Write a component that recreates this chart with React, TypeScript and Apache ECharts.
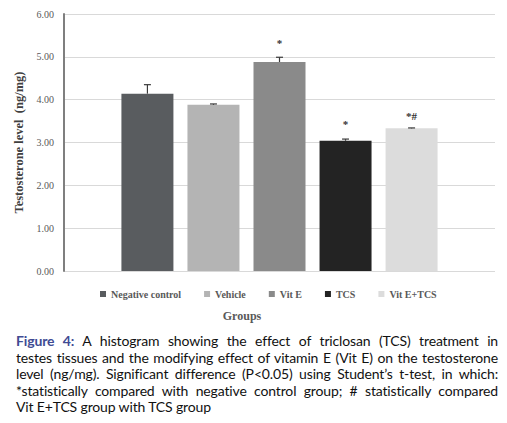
import React, { useEffect, useRef } from "react";
import * as echarts from "echarts";

const categories = ["Negative control", "Vehicle", "Vit E", "TCS", "Vit E+TCS"];
const means = [4.14, 3.88, 4.88, 3.04, 3.33];
const errors = [0.21, 0.02, 0.11, 0.04, 0.01];
const marks = ["", "", "*", "*", "*#"];
const colors = ["#595c5f", "#b4b4b4", "#8a8a8a", "#232323", "#dcdcdc"];
const markDistance = [0, 0, 13, 11, 7];
const yMin = 0;
const yMax = 6;
const yInterval = 1;

const captionLead = "Figure 4:";
const captionLines = [
  " A histogram showing the effect of triclosan (TCS) treatment in",
  "testes tissues and the modifying effect of vitamin E (Vit E) on the testosterone",
  "level (ng/mg). Significant difference (P<0.05) using Student\u2019s t-test, in which:",
  "*statistically compared with negative control group; # statistically compared",
  "Vit E+TCS group with TCS group",
];

const BAR_W = 52;
const GAP = 0.27;
const SERIF = "'Liberation Serif', 'Times New Roman', serif";

export default function App() {
  const ref = useRef<HTMLDivElement>(null);

  useEffect(() => {
    if (!ref.current) return;
    const chart = echarts.init(ref.current, undefined, { renderer: "svg" });

    const barSeries = categories.map((name, i) => ({
      name,
      type: "bar",
      barWidth: BAR_W,
      barGap: GAP * 100 + "%",
      itemStyle: { color: colors[i] },
      label: {
        show: marks[i] !== "",
        position: "top",
        distance: markDistance[i],
        formatter: () => marks[i],
        fontFamily: SERIF,
        fontSize: 11,
        fontWeight: "bold",
        color: "#333",
      },
      data: [means[i]],
      z: 2,
    }));

    const errData = means.map((m, i) => [0, m, m + errors[i], i]);

    chart.setOption({
      animation: false,
      backgroundColor: "#fff",
      grid: { left: 64, right: 12, top: 14, bottom: 152, containLabel: false },
      legend: {
        data: categories,
        left: 95,
        top: 284,
        icon: "rect",
        itemWidth: 6,
        itemHeight: 6,
        itemGap: 23,
        textStyle: {
          fontFamily: SERIF,
          fontWeight: "bold",
          fontSize: 10,
          color: "#595959",
        },
      },
      xAxis: {
        type: "category",
        data: [""],
        offset: 2,
        axisTick: { show: false },
        axisLabel: { show: false },
        axisLine: {
          show: true,
          lineStyle: {
            color: "#1e1e1e",
            width: 4,
            shadowColor: "rgba(0,0,0,0.35)",
            shadowBlur: 3,
            shadowOffsetY: 1,
          },
        },
        name: "Groups",
        nameLocation: "middle",
        nameGap: 37,
        nameTextStyle: {
          fontFamily: SERIF,
          fontWeight: "bold",
          fontSize: 12,
          color: "#595959",
          padding: [0, 75, 0, 0],
        },
      },
      yAxis: [
        {
          type: "value",
          min: yMin,
          max: yMax,
          interval: yInterval,
          axisLine: { show: true, lineStyle: { color: "#7f7f7f", width: 2 } },
          axisTick: { show: false },
          axisLabel: {
            margin: 10,
            formatter: (v: number) => v.toFixed(2),
            fontFamily: SERIF,
            fontSize: 10,
            color: "#595959",
          },
          splitLine: { lineStyle: { color: "#d9d9d9", width: 1 } },
          name: "Testosterone level  (ng/mg)",
          nameLocation: "middle",
          nameGap: 27,
          nameRotate: 90,
          nameTextStyle: {
            fontFamily: SERIF,
            fontWeight: "bold",
            fontSize: 12.5,
            color: "#404040",
          },
        },
        {
          type: "value",
          position: "right",
          min: yMin,
          max: yMax,
          interval: yInterval,
          offset: 1,
          axisLine: {
            show: true,
            lineStyle: {
              color: "#d4d4d4",
              width: 3,
              shadowColor: "rgba(0,0,0,0.15)",
              shadowBlur: 2,
            },
          },
          axisTick: { show: false },
          axisLabel: { show: false },
          splitLine: { show: false },
        },
      ],
      series: [
        ...barSeries,
        {
          type: "custom",
          name: "error",
          data: errData,
          encode: { x: 0, y: [1, 2] },
          z: 5,
          renderItem: (_params: any, api: any) => {
            const base = api.coord([0, api.value(1)]);
            const top = api.coord([0, api.value(2)]);
            const i = api.value(3);
            const x = base[0] + (i - 2) * (BAR_W + BAR_W * GAP);
            const style = { stroke: "#3a3a3a", lineWidth: 1.2 };
            return {
              type: "group",
              children: [
                { type: "line", shape: { x1: x, y1: base[1], x2: x, y2: top[1] }, style },
                { type: "line", shape: { x1: x - 3.5, y1: top[1], x2: x + 3.5, y2: top[1] }, style },
              ],
            };
          },
        },
      ],
    });

    return () => chart.dispose();
  }, []);

  return (
    <div style={{ position: "absolute", left: 0, top: 0, width: 507, height: 423, background: "#fff" }}>
      <div ref={ref} style={{ position: "absolute", left: 0, top: 0, width: 507, height: 423 }} />
      <div
        style={{
          position: "absolute",
          left: 16,
          top: 333,
          width: 482,
          fontFamily: "Lato, 'Noto Sans', sans-serif",
          fontSize: 14,
          letterSpacing: "-0.15px",
          lineHeight: "16.6px",
          color: "#111",
        }}
      >
        {captionLines.map((line, i) => (
          <div
            key={i}
            style={{
              textAlign: "justify",
              textAlignLast: i === captionLines.length - 1 ? "left" : "justify",
              whiteSpace: "nowrap",
            }}
          >
            {i === 0 && <span style={{ color: "#404b93", fontWeight: 700 }}>{captionLead}</span>}
            {line}
          </div>
        ))}
      </div>
    </div>
  );
}
